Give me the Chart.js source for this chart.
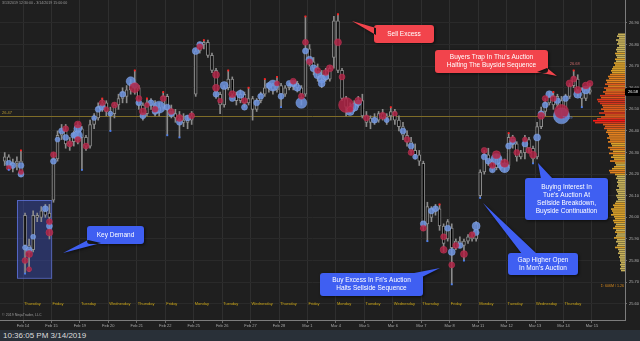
<!DOCTYPE html>
<html>
<head>
<meta charset="utf-8">
<script src="https://cdn.jsdelivr.net/npm/chart.js@4/dist/chart.umd.min.js"></script>
<style>
  html, body { margin: 0; padding: 0; background: #1f1f1f; }
  #wrap { position: relative; width: 640px; height: 330px; }
  #priceChart { position: absolute; left: 0; top: 0; }
  #profileBox { position: absolute; left: 585px; top: 0; width: 40px; height: 320px; }
  #status { width: 640px; height: 11px; background: #293038; color: #dcdcdc;
            font: 8px "Liberation Sans", Arial, sans-serif; line-height: 11px; padding-left: 3px; box-sizing: border-box; }
</style>
</head>
<body>
<div id="wrap">
  <canvas id="priceChart" width="640" height="330"></canvas>
  <div id="profileBox"><canvas id="profileChart" width="40" height="320"></canvas></div>
</div>
<div id="status">10:36:05 PM 3/14/2019</div>
<script>
// sessions shown on the time axis (hourly bars, 7 per session)
const dates = ['Feb 14', 'Feb 15', 'Feb 19', 'Feb 20', 'Feb 21', 'Feb 22', 'Feb 25', 'Feb 26', 'Feb 27', 'Feb 28',
  'Mar 1', 'Mar 4', 'Mar 5', 'Mar 6', 'Mar 7', 'Mar 8', 'Mar 11', 'Mar 12', 'Mar 13', 'Mar 14', 'Mar 15'];
const dayNames = ['Thursday', 'Friday', 'Tuesday', 'Wednesday', 'Thursday', 'Friday', 'Monday', 'Tuesday', 'Wednesday',
  'Thursday', 'Friday', 'Monday', 'Tuesday', 'Wednesday', 'Thursday', 'Friday', 'Monday', 'Tuesday', 'Wednesday', 'Thursday'];
const barsPerSession = 7;
const firstBar = -5; // tail of the Feb 13 session

const priceTicks = [25.60, 25.70, 25.80, 25.90, 26.00, 26.10, 26.20, 26.30, 26.40, 26.50, 26.60, 26.70, 26.80, 26.90];

const open = [
  26.26, 26.28, 26.24, 26.25, 26.26,                 // Feb 13
  26.01, 25.87, 25.85, 26.01, 26.00, 26.03, 26.02,   // Feb 14
  26.08, 26.27, 26.38, 26.40, 26.34, 26.35, 26.39,   // Feb 15
  26.41, 26.37, 26.33, 26.43, 26.46, 26.51, 26.53,   // Feb 19
  26.49, 26.48, 26.52, 26.55, 26.56, 26.59, 26.62,   // Feb 20
  26.60, 26.52, 26.48, 26.53, 26.52, 26.49, 26.51,   // Feb 21
  26.56, 26.50, 26.48, 26.46, 26.45, 26.44, 26.45,   // Feb 22
  26.57, 26.77, 26.80, 26.81, 26.75, 26.68, 26.57,   // Feb 25
  26.52, 26.60, 26.64, 26.57, 26.54, 26.57, 26.53,   // Feb 26
  26.55, 26.50, 26.54, 26.57, 26.60, 26.61, 26.59,   // Feb 27
  26.61, 26.57, 26.60, 26.61, 26.62, 26.60, 26.57,   // Feb 28
  26.78, 26.72, 26.69, 26.65, 26.66, 26.64, 26.74,   // Mar 1
  26.91, 26.68, 26.55, 26.51, 26.50, 26.53, 26.54,   // Mar 4
  26.47, 26.44, 26.46, 26.45, 26.48, 26.46, 26.47,   // Mar 5
  26.49, 26.45, 26.42, 26.38, 26.35, 26.31, 26.29,   // Mar 6
  26.25, 25.97, 26.00, 26.04, 26.04, 25.96, 25.90,   // Mar 7
  25.95, 25.86, 25.89, 25.87, 25.89, 25.91, 25.90,   // Mar 8
  26.10, 26.21, 26.29, 26.26, 26.23, 26.27, 26.25,   // Mar 11
  26.24, 26.37, 26.34, 26.28, 26.30, 26.36, 26.32,   // Mar 12
  26.28, 26.42, 26.49, 26.53, 26.56, 26.52, 26.54,   // Mar 13
  26.50, 26.56, 26.61, 26.64, 26.59, 26.55, 26.59    // Mar 14
];
const high = [
  26.30, 26.29, 26.27, 26.28, 26.31,
  26.02, 25.90, 26.03, 26.02, 26.05, 26.06, 26.06,
  26.30, 26.40, 26.43, 26.43, 26.37, 26.40, 26.44,
  26.42, 26.38, 26.45, 26.48, 26.53, 26.55, 26.54,
  26.51, 26.53, 26.57, 26.60, 26.61, 26.64, 26.68,
  26.61, 26.53, 26.55, 26.55, 26.54, 26.53, 26.58,
  26.57, 26.52, 26.50, 26.49, 26.48, 26.47, 26.49,
  26.78, 26.81, 26.82, 26.82, 26.76, 26.69, 26.58,
  26.61, 26.68, 26.65, 26.58, 26.59, 26.58, 26.60,
  26.56, 26.55, 26.58, 26.64, 26.62, 26.62, 26.65,
  26.62, 26.61, 26.62, 26.63, 26.63, 26.61, 26.93,
  26.80, 26.74, 26.71, 26.68, 26.69, 26.70, 26.93,
  26.94, 26.69, 26.56, 26.53, 26.54, 26.56, 26.57,
  26.49, 26.47, 26.48, 26.49, 26.50, 26.48, 26.51,
  26.50, 26.47, 26.44, 26.40, 26.37, 26.34, 26.31,
  26.26, 26.07, 26.05, 26.06, 26.06, 25.97, 25.99,
  25.97, 25.90, 25.91, 25.90, 25.92, 25.93, 25.98,
  26.22, 26.31, 26.32, 26.27, 26.29, 26.28, 26.27,
  26.39, 26.38, 26.35, 26.31, 26.38, 26.37, 26.33,
  26.44, 26.51, 26.55, 26.58, 26.58, 26.57, 26.56,
  26.57, 26.62, 26.68, 26.66, 26.60, 26.60, 26.62
];
const low = [
  26.24, 26.22, 26.21, 26.22, 26.19,
  25.74, 25.75, 25.84, 25.98, 25.98, 26.00, 25.90,
  26.07, 26.26, 26.36, 26.32, 26.31, 26.33, 26.34,
  26.22, 26.31, 26.32, 26.41, 26.45, 26.49, 26.47,
  26.40, 26.46, 26.50, 26.53, 26.53, 26.57, 26.57,
  26.50, 26.45, 26.47, 26.50, 26.47, 26.47, 26.50,
  26.38, 26.46, 26.44, 26.37, 26.42, 26.41, 26.43,
  26.56, 26.76, 26.78, 26.74, 26.67, 26.55, 26.48,
  26.51, 26.59, 26.55, 26.52, 26.53, 26.51, 26.52,
  26.45, 26.49, 26.53, 26.56, 26.58, 26.57, 26.58,
  26.51, 26.56, 26.59, 26.59, 26.58, 26.52, 26.56,
  26.70, 26.66, 26.63, 26.60, 26.63, 26.63, 26.69,
  26.67, 26.54, 26.47, 26.48, 26.49, 26.51, 26.46,
  26.42, 26.41, 26.43, 26.44, 26.45, 26.43, 26.45,
  26.43, 26.40, 26.36, 26.33, 26.29, 26.27, 26.24,
  25.94, 25.89, 25.98, 26.01, 25.94, 25.84, 25.89,
  25.69, 25.85, 25.86, 25.80, 25.88, 25.89, 25.89,
  26.09, 26.20, 26.24, 26.21, 26.22, 26.22, 26.21,
  26.23, 26.32, 26.26, 26.27, 26.27, 26.30, 26.25,
  26.27, 26.41, 26.47, 26.52, 26.50, 26.51, 26.47,
  26.49, 26.55, 26.60, 26.56, 26.51, 26.54, 26.57
];
const close = [
  26.28, 26.24, 26.25, 26.26, 26.20,
  25.87, 25.85, 26.01, 26.00, 26.03, 26.01, 26.00,
  26.27, 26.38, 26.40, 26.34, 26.35, 26.39, 26.42,
  26.37, 26.33, 26.43, 26.46, 26.51, 26.53, 26.49,
  26.48, 26.52, 26.55, 26.58, 26.59, 26.62, 26.60,
  26.52, 26.48, 26.53, 26.52, 26.49, 26.51, 26.56,
  26.50, 26.48, 26.46, 26.45, 26.44, 26.45, 26.47,
  26.77, 26.80, 26.81, 26.75, 26.68, 26.58, 26.52,
  26.60, 26.64, 26.57, 26.54, 26.57, 26.53, 26.55,
  26.50, 26.54, 26.57, 26.60, 26.61, 26.59, 26.61,
  26.57, 26.60, 26.61, 26.62, 26.60, 26.57, 26.78,
  26.72, 26.69, 26.65, 26.66, 26.64, 26.69, 26.91,
  26.68, 26.55, 26.51, 26.50, 26.53, 26.54, 26.47,
  26.44, 26.46, 26.45, 26.48, 26.46, 26.47, 26.49,
  26.45, 26.42, 26.38, 26.35, 26.31, 26.29, 26.26,
  25.96, 26.05, 26.04, 26.03, 25.96, 25.88, 25.98,
  25.86, 25.89, 25.88, 25.89, 25.91, 25.90, 25.97,
  26.21, 26.29, 26.26, 26.23, 26.27, 26.25, 26.24,
  26.37, 26.34, 26.28, 26.30, 26.36, 26.32, 26.27,
  26.42, 26.49, 26.53, 26.56, 26.52, 26.56, 26.50,
  26.56, 26.61, 26.65, 26.59, 26.55, 26.59, 26.58
];

// order-flow bubbles: [bar, price, volume]
const buyBubbles = [
  [-4, 26.25, 3], [-3, 26.24, 3], [-1, 26.24, 3], [-1, 26.20, 3],
  [0, 25.86, 2.5], [1, 25.85, 3], [2, 25.91, 2.5], [5, 26.04, 3], [6, 25.96, 3],
  [7, 26.26, 3], [8, 26.36, 2.5], [9, 26.40, 3], [10, 26.37, 3], [12, 26.38, 3], [13, 26.41, 4], [13, 26.38, 4.5],
  [17, 26.46, 2.5], [18, 26.50, 3], [19, 26.51, 3],
  [21, 26.48, 2.5], [24, 26.57, 3], [26, 26.63, 4.5], [27, 26.61, 3],
  [28, 26.53, 3], [29, 26.47, 3], [31, 26.53, 3], [32, 26.49, 3], [33, 26.51, 6],
  [35, 26.51, 3], [36, 26.48, 3], [38, 26.44, 3], [40, 26.46, 3],
  [42, 26.77, 3.5], [43, 26.80, 3], [47, 26.57, 3],
  [49, 26.61, 4], [51, 26.55, 3], [53, 26.57, 4], [54, 26.51, 3],
  [57, 26.53, 3], [58, 26.56, 3], [60, 26.61, 3], [61, 26.61, 5.5],
  [63, 26.56, 3], [65, 26.62, 3], [66, 26.62, 3.5], [67, 26.60, 3.5], [68, 26.53, 5.5], [69, 26.77, 3],
  [70, 26.73, 3.5], [71, 26.69, 3.5], [72, 26.66, 4], [73, 26.64, 4], [73, 26.62, 3.5], [74, 26.65, 3],
  [80, 26.49, 4], [81, 26.51, 4], [82, 26.53, 3],
  [86, 26.45, 3], [89, 26.45, 2.5],
  [93, 26.40, 3], [95, 26.33, 3], [96, 26.28, 2.5],
  [98, 25.97, 3], [100, 26.03, 3], [101, 26.04, 3], [104, 25.95, 3],
  [105, 25.84, 3.5], [107, 25.87, 3], [111, 25.96, 4], [111, 25.93, 3],
  [113, 26.28, 3], [114, 26.26, 3], [115, 26.22, 3], [116, 26.27, 5.5], [117, 26.24, 3], [118, 26.23, 5],
  [119, 26.33, 3], [120, 26.35, 3], [123, 26.34, 3],
  [126, 26.37, 3.5], [127, 26.48, 3], [128, 26.52, 3], [129, 26.57, 3.5], [131, 26.54, 3], [132, 26.47, 8],
  [133, 26.55, 3], [136, 26.57, 4], [138, 26.59, 4]
];
const sellBubbles = [
  [-4, 26.23, 2.5], [-1, 26.21, 2.5],
  [0, 25.80, 3], [1, 25.83, 3.5], [1, 25.76, 2.5], [6, 25.98, 3], [6, 25.93, 3.5],
  [7, 26.29, 3], [10, 26.41, 3], [11, 26.34, 3], [13, 26.43, 3.5], [13, 26.36, 3],
  [15, 26.33, 3], [19, 26.53, 3], [20, 26.50, 2.5],
  [22, 26.52, 3], [27, 26.60, 5],
  [28, 26.55, 3], [29, 26.49, 3.5], [30, 26.52, 2.5], [32, 26.50, 3], [34, 26.55, 3],
  [36, 26.49, 3], [38, 26.46, 3.5], [41, 26.47, 3],
  [43, 26.79, 3], [47, 26.66, 3.5], [47, 26.60, 3.5], [48, 26.54, 2.5],
  [51, 26.57, 3.5], [54, 26.54, 3],
  [62, 26.62, 2.5],
  [66, 26.63, 3], [68, 26.56, 3], [69, 26.81, 3],
  [70, 26.72, 3], [72, 26.68, 3], [74, 26.67, 3], [75, 26.69, 3.5],
  [77, 26.81, 3.5], [78, 26.65, 3], [79, 26.52, 7.5], [80, 26.50, 3], [82, 26.54, 3.5],
  [84, 26.46, 3], [88, 26.47, 3.5],
  [91, 26.48, 2.5], [94, 26.36, 3], [95, 26.30, 3],
  [98, 25.95, 3], [103, 25.91, 3], [103, 25.85, 3.5],
  [105, 25.78, 3], [106, 25.87, 3], [108, 25.83, 3.5], [110, 25.92, 3],
  [113, 26.31, 3], [115, 26.24, 3], [116, 26.29, 4], [118, 26.25, 4],
  [120, 26.36, 3], [121, 26.30, 3], [123, 26.36, 2.5], [124, 26.31, 3], [125, 26.29, 3.5],
  [127, 26.47, 3.5], [128, 26.55, 3], [130, 26.55, 3], [132, 26.49, 7],
  [134, 26.62, 3.5], [135, 26.64, 3], [136, 26.59, 3.5], [138, 26.61, 3.5], [139, 26.62, 3]
];

// bars whose high / low is flagged
const highFlagBars = [-1, 19, 27, 30, 34, 44, 50, 55, 59, 62, 69, 77, 90, 102, 119, 130, 135];
const lowFlagBars = [-4, 0, 14, 21, 35, 38, 63, 99, 105, 108, 112, 125, 137];

const refLevel = 26.47;
const keyDemand = { fromBar: -2, toBar: 6.4, top: 26.08, bottom: 25.72 };

// volume profile, one row per tick from the top level down
const profileTop = 26.92;
const tickSize = 0.01;
const profileVolume = [
  7, 8, 6, 9, 7, 8, 6, 8,
  9, 8, 10, 9, 8, 10, 9, 11, 10,
  12, 13, 14, 13, 15,
  17, 16, 19, 18, 20, 17,
  21, 19, 22, 20, 25,
  24, 28, 27, 25, 23,
  22, 24, 21, 26, 20,
  24, 28, 32, 30,
  22, 20, 21, 18, 19, 17,
  16, 18, 15, 17, 14,
  13, 17, 15, 12, 16,
  12, 14, 11, 15, 10,
  9, 11, 13, 16, 15,
  10, 8, 9, 7, 8,
  7, 8, 6, 9, 8,
  7, 9, 8, 7, 9,
  10, 12, 11, 14, 13,
  12, 14, 11, 10, 12,
  11, 9, 10, 12, 9,
  10, 8, 9, 11, 8,
  9, 7, 8, 10, 7,
  6, 7, 5, 6, 5,
  5, 4, 5, 4, 5,
  4
];

const yMin = 25.525, yMax = 27.006;
const xMin = -6.16, xMax = 147.63;
const BG = '#1f1f1f';
const FONT = '"Liberation Sans", Arial, sans-serif';

Chart.defaults.font.family = FONT;
Chart.defaults.animation = false;

const barX = i => firstBar + i;
const sessionBoundary = k => k * barsPerSession - 0.5;

const callouts = [
  { lines: ['Sell Excess'], color: '#f2444c', box: [374, 25, 60, 18], base: [[376, 28], [376, 35]], tip: [352, 21] },
  { lines: ["Buyers Trap In Thu's Auction", 'Halting The Buyside Sequence'], color: '#f2444c',
    box: [435, 50, 113, 23], base: [[537, 72], [547, 68]], tip: [557, 76] },
  { lines: ['Buying Interest In', "Tue's Auction At", 'Sellside Breakdown,', 'Buyside Continuation'], color: '#3f5ff2',
    box: [525, 178, 83, 42], base: [[541, 179], [553, 179]], tip: [538, 163] },
  { lines: ['Gap Higher Open', "In Mon's Auction"], color: '#3f5ff2',
    box: [508, 253, 70, 22], base: [[522, 254], [537, 254]], tip: [483, 203] },
  { lines: ["Buy Excess In Fri's Auction", 'Halts Sellside Sequence'], color: '#3f5ff2',
    box: [320, 273, 103, 23], base: [[409, 274], [422, 277]], tip: [440, 268] },
  { lines: ['Key Demand'], color: '#3f5ff2', box: [87, 226, 57, 18], base: [[88, 240], [101, 243]], tip: [63, 253] }
];

function roundRect(ctx, x, y, w, h, r) {
  ctx.moveTo(x + r, y);
  ctx.arcTo(x + w, y, x + w, y + h, r);
  ctx.arcTo(x + w, y + h, x, y + h, r);
  ctx.arcTo(x, y + h, x, y, r);
  ctx.arcTo(x, y, x + w, y, r);
  ctx.closePath();
}

const overlayPlugin = {
  id: 'overlay',
  beforeDatasetsDraw(chart) {
    const { ctx, chartArea: a, scales: { x, y } } = chart;
    ctx.save();
    // key demand zone
    const zx0 = x.getPixelForValue(keyDemand.fromBar), zx1 = x.getPixelForValue(keyDemand.toBar);
    const zy0 = y.getPixelForValue(keyDemand.top), zy1 = y.getPixelForValue(keyDemand.bottom);
    ctx.fillStyle = 'rgba(58, 78, 190, 0.42)';
    ctx.fillRect(zx0, zy0, zx1 - zx0, zy1 - zy0);
    ctx.strokeStyle = 'rgba(95, 115, 220, 0.8)';
    ctx.lineWidth = 1;
    ctx.strokeRect(Math.round(zx0) + 0.5, Math.round(zy0) + 0.5, zx1 - zx0, zy1 - zy0);
    // reference level
    const ry = Math.round(y.getPixelForValue(refLevel)) + 0.5;
    ctx.strokeStyle = '#7e6c28';
    ctx.beginPath();
    ctx.moveTo(a.left, ry);
    ctx.lineTo(a.right, ry);
    ctx.stroke();
    ctx.restore();
  },
  afterDatasetsDraw(chart) {
    const { ctx, chartArea: a, scales: { x, y } } = chart;
    ctx.save();
    ctx.textBaseline = 'middle';

    // weekday names along the bottom of the plot
    ctx.font = '4px ' + FONT;
    ctx.fillStyle = '#c9a416';
    ctx.textAlign = 'left';
    dayNames.forEach((d, k) => ctx.fillText(d, x.getPixelForValue(sessionBoundary(k)) + 1, 304));

    // small captions
    ctx.font = '3.6px ' + FONT;
    ctx.fillStyle = '#9c9c9c';
    ctx.fillText('3/13/2019 12:30:00 - 3/14/2019 15:00:00', 2, 3);
    ctx.fillText('\u00a9 2019 NinjaTrader, LLC', 2, 315);
    ctx.font = '4px ' + FONT;
    ctx.fillStyle = '#b89a30';
    ctx.fillText(refLevel.toFixed(2), 2, y.getPixelForValue(refLevel) - 3);

    // last session high / low labels
    const s0 = (dates.length - 2) * barsPerSession - firstBar;
    let hi = s0, lo = s0;
    for (let i = s0; i < high.length; i++) {
      if (high[i] > high[hi]) hi = i;
      if (low[i] < low[lo]) lo = i;
    }
    ctx.textAlign = 'center';
    ctx.fillStyle = '#c86a6a';
    ctx.fillText(high[hi].toFixed(2), x.getPixelForValue(barX(hi)) + 1, y.getPixelForValue(high[hi]) - 7);
    ctx.fillStyle = '#5a84e8';
    ctx.fillText(low[lo].toFixed(2), x.getPixelForValue(barX(lo)) + 2, y.getPixelForValue(low[lo]) + 6);

    // profile totals
    ctx.font = '3.6px ' + FONT;
    ctx.textAlign = 'right';
    ctx.fillStyle = '#d98a1c';
    ctx.fillText('\u03a3: 606M / 1.26', a.right - 1, 286);

    // last price marker on the axis
    const last = close[close.length - 1];
    const ly = Math.round(y.getPixelForValue(last));
    ctx.fillStyle = '#000';
    ctx.beginPath();
    ctx.moveTo(a.right - 3, ly);
    ctx.lineTo(a.right + 1, ly - 4);
    ctx.lineTo(640, ly - 4);
    ctx.lineTo(640, ly + 4);
    ctx.lineTo(a.right + 1, ly + 4);
    ctx.closePath();
    ctx.fill();
    ctx.font = '4px ' + FONT;
    ctx.fillStyle = '#fff';
    ctx.textAlign = 'left';
    ctx.fillText(last.toFixed(2), a.right + 3, ly);

    // callouts
    callouts.forEach(c => {
      const [bx, by, bw, bh] = c.box;
      ctx.save();
      ctx.shadowColor = 'rgba(0,0,0,0.6)';
      ctx.shadowBlur = 3;
      ctx.shadowOffsetX = 1;
      ctx.shadowOffsetY = 1;
      ctx.fillStyle = c.color;
      ctx.beginPath();
      roundRect(ctx, bx, by, bw, bh, 3);
      ctx.moveTo(c.base[0][0], c.base[0][1]);
      ctx.lineTo(c.tip[0], c.tip[1]);
      ctx.lineTo(c.base[1][0], c.base[1][1]);
      ctx.closePath();
      ctx.fill();
      ctx.restore();
      ctx.fillStyle = '#fff';
      ctx.font = '6.5px ' + FONT;
      ctx.textAlign = 'center';
      const lh = 8;
      const y0 = by + bh / 2 - (c.lines.length - 1) * lh / 2;
      c.lines.forEach((t, i) => ctx.fillText(t, bx + bw / 2, y0 + i * lh));
    });
    ctx.restore();
  }
};

new Chart(document.getElementById('priceChart'), {
  type: 'bar',
  data: {
    datasets: [
      {
        label: 'wick',
        order: 6,
        data: high.map((h, i) => ({ x: barX(i), y: [low[i], h] })),
        backgroundColor: '#8c8c8c',
        barThickness: 1,
        grouped: false
      },
      {
        label: 'body',
        order: 5,
        data: open.map((o, i) => ({ x: barX(i), y: [o, close[i]] })),
        backgroundColor: ctx => close[ctx.dataIndex] >= open[ctx.dataIndex] ? BG : '#000',
        borderColor: '#8c8c8c',
        borderWidth: 1,
        borderSkipped: false,
        barThickness: 3,
        minBarLength: 1,
        grouped: false
      },
      {
        type: 'bubble',
        label: 'buy',
        order: 4,
        data: buyBubbles.map(([b, p, v]) => ({ x: b, y: p, r: v })),
        backgroundColor: 'rgba(110, 148, 224, 0.85)',
        borderColor: 'rgba(140, 172, 236, 0.9)',
        borderWidth: 0.5
      },
      {
        type: 'bubble',
        label: 'sell',
        order: 3,
        data: sellBubbles.map(([b, p, v]) => ({ x: b, y: p, r: v })),
        backgroundColor: 'rgba(176, 36, 70, 0.85)',
        borderColor: 'rgba(200, 60, 90, 0.9)',
        borderWidth: 0.5
      },
      {
        type: 'scatter',
        label: 'high flag',
        order: 2,
        data: highFlagBars.map(b => ({ x: b, y: high[b - firstBar] })),
        pointStyle: 'rect',
        radius: 1.3,
        backgroundColor: '#ff2020',
        borderWidth: 0
      },
      {
        type: 'scatter',
        label: 'low flag',
        order: 1,
        data: lowFlagBars.map(b => ({ x: b, y: low[b - firstBar] })),
        pointStyle: 'rect',
        radius: 1.3,
        backgroundColor: '#4a7ef0',
        borderWidth: 0
      }
    ]
  },
  options: {
    responsive: false,
    layout: { padding: 0, autoPadding: false },
    plugins: { legend: { display: false }, tooltip: { enabled: false } },
    scales: {
      x: {
        type: 'linear',
        min: xMin,
        max: xMax,
        offset: false,
        bounds: 'data',
        grid: { color: '#2f2f2f', offset: false, tickLength: 3, tickColor: '#6a6a6a' },
        border: { color: '#7c7c7c' },
        ticks: {
          autoSkip: false, maxRotation: 0, padding: 0,
          color: '#a8a8a8', font: { size: 4 },
          callback: (v, i) => dates[i]
        },
        afterBuildTicks: s => { s.ticks = dates.map((d, k) => ({ value: sessionBoundary(k) })); },
        afterFit: s => { s.height = 10; s.paddingLeft = 0; s.paddingRight = 0; }
      },
      y: {
        type: 'linear',
        position: 'right',
        min: yMin,
        max: yMax,
        bounds: 'data',
        grid: { color: '#2a2a2a', tickLength: 2, tickColor: '#6a6a6a' },
        border: { color: '#7c7c7c' },
        ticks: {
          padding: 2, color: '#b0b0b0', font: { size: 4 },
          callback: v => v.toFixed(2)
        },
        afterBuildTicks: s => { s.ticks = priceTicks.map(v => ({ value: v })); },
        afterFit: s => { s.width = 15; s.paddingTop = 0; s.paddingBottom = 0; }
      }
    }
  },
  plugins: [overlayPlugin]
});

// volume profile drawn against the same price range
const profileLevels = profileVolume.map((_, i) => +(profileTop - i * tickSize).toFixed(2));
const maxVol = Math.max(...profileVolume);
const profileColor = v => {
  const r = v / maxVol;
  if (r > 0.95) return '#ff1414';
  if (r > 0.75) return '#d8341c';
  if (r > 0.6) return '#de5a1c';
  if (r > 0.45) return '#e2801f';
  if (r > 0.3) return '#dca22a';
  return '#c8b25a';
};

new Chart(document.getElementById('profileChart'), {
  type: 'bar',
  data: {
    datasets: [{
      data: profileVolume.map((v, i) => ({ x: v, y: profileLevels[i] })),
      backgroundColor: profileVolume.map(profileColor),
      barPercentage: 0.85,
      categoryPercentage: 1
    }]
  },
  options: {
    responsive: false,
    indexAxis: 'y',
    layout: { padding: 0, autoPadding: false },
    plugins: { legend: { display: false }, tooltip: { enabled: false } },
    scales: {
      x: { type: 'linear', reverse: true, min: 0, max: 40, display: false },
      y: { type: 'linear', min: yMin, max: yMax, display: false }
    }
  }
});
</script>
</body>
</html>
